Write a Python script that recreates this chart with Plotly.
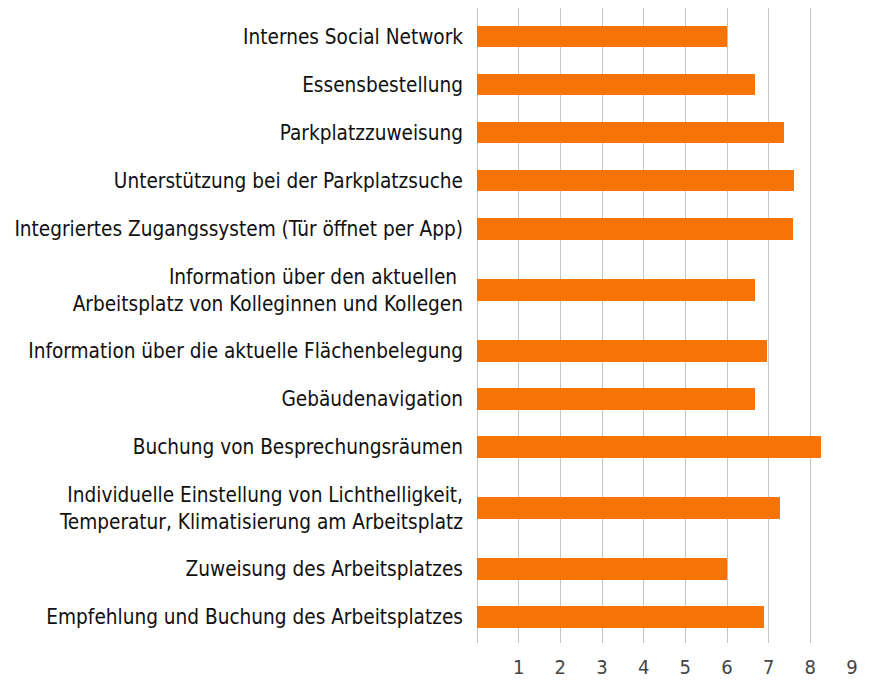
import plotly.graph_objects as go

categories = [
    "Internes Social Network",
    "Essensbestellung",
    "Parkplatzzuweisung",
    "Unterstützung bei der Parkplatzsuche",
    "Integriertes Zugangssystem (Tür öffnet per App)",
    "Information über den aktuellen <br>Arbeitsplatz von Kolleginnen und Kollegen",
    "Information über die aktuelle Flächenbelegung",
    "Gebäudenavigation",
    "Buchung von Besprechungsräumen",
    "Individuelle Einstellung von Lichthelligkeit,<br>Temperatur, Klimatisierung am Arbeitsplatz",
    "Zuweisung des Arbeitsplatzes",
    "Empfehlung und Buchung des Arbeitsplatzes",
]
values = [6.0, 6.68, 7.36, 7.61, 7.58, 6.68, 6.96, 6.68, 8.25, 7.28, 6.0, 6.88]
x_ticks = [1, 2, 3, 4, 5, 6, 7, 8, 9]

# Row slot heights depend on the number of label lines
slots = [1.0 if "<br>" not in c else 1.54 for c in categories]
centers = []
acc = 0.0
for s in slots:
    centers.append(acc + s / 2)
    acc += s

FONT = "DejaVu Sans Condensed, Liberation Sans Narrow, sans-serif"

fig = go.Figure(
    go.Bar(
        x=values,
        y=centers,
        orientation="h",
        width=0.44,
        marker=dict(color="#F87406", line=dict(width=0)),
        hoverinfo="x",
    )
)

# page body has an 8px margin, so the figure is 8px smaller each way
fig.update_layout(
    width=865,
    height=674,
    margin=dict(l=469, r=21, t=0, b=39, autoexpand=False),
    paper_bgcolor="white",
    plot_bgcolor="white",
    showlegend=False,
    bargap=0,
    xaxis=dict(
        range=[0, 9],
        tickvals=x_ticks,
        ticktext=[str(t) for t in x_ticks],
        showgrid=True,
        gridcolor="#c4c4c4",
        gridwidth=1,
        zeroline=True,
        zerolinecolor="#c4c4c4",
        zerolinewidth=1,
        showline=False,
        ticks="",
        ticklabelstandoff=10,
        tickfont=dict(family=FONT, size=20, color="#444444"),
        automargin=False,
        fixedrange=True,
    ),
    yaxis=dict(
        range=[centers[-1] + 0.54, centers[0] - 0.6],
        tickvals=centers,
        ticktext=categories,
        showgrid=False,
        zeroline=False,
        showline=False,
        ticks="",
        ticklabelstandoff=13,
        tickfont=dict(family=FONT, size=20.6, color="#111111"),
        automargin=False,
        fixedrange=True,
    ),
)

fig.write_html("out.html")
